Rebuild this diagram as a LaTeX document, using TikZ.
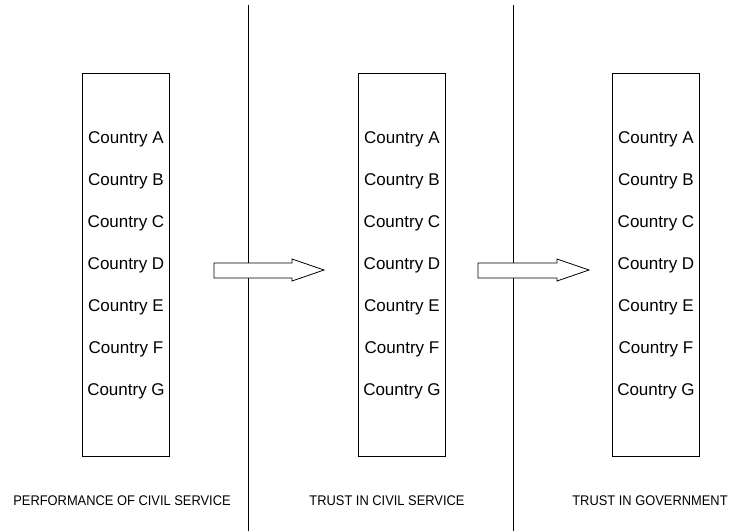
\documentclass[tikz,border=0pt]{standalone}
\usepackage{fontspec}
\setmainfont{Liberation Sans}
\tikzset{
  country/.style={font=\fontsize{17}{17}\selectfont, inner sep=0pt},
  stage/.style={font=\fontsize{14}{14}\selectfont, inner sep=0pt},
  column/.style={draw, line width=0.8pt, minimum width=87pt, minimum height=383pt, inner sep=0pt},
  divider/.style={line width=0.9pt},
  flow/.style={draw, fill=white, line width=0.8pt, line join=miter}
}
\newcommand{\stagetext}[1]{\scalebox{0.92}[1]{#1}}
\begin{document}
\begin{tikzpicture}[x=1pt, y=-1pt]
      \useasboundingbox (0,0) rectangle (729,531);
      \coordinate (top1) at (248,5); \coordinate (bot1) at (248,531);
      \coordinate (top2) at (513,5); \coordinate (bot2) at (513,531);
      \draw[divider] (top1) -- (bot1);
      \draw[divider] (top2) -- (bot2);
      \node[column] (perf) at (126,264.5) {};
      \node[column] (trustcs) at (402,264.5) {};
      \node[column] (trustgov) at (656,264.5) {};
      \node[country] (perfA) at (126,139) {Country A}; \node[country] (perfB) at (126,181) {Country B};
      \node[country] (perfC) at (126,223) {Country C}; \node[country] (perfD) at (126,265) {Country D};
      \node[country] (perfE) at (126,307) {Country E}; \node[country] (perfF) at (126,349) {Country F};
      \node[country] (perfG) at (126,391) {Country G};
      \node[country] (csA) at (402,139) {Country A}; \node[country] (csB) at (402,181) {Country B};
      \node[country] (csC) at (402,223) {Country C}; \node[country] (csD) at (402,265) {Country D};
      \node[country] (csE) at (402,307) {Country E}; \node[country] (csF) at (402,349) {Country F};
      \node[country] (csG) at (402,391) {Country G};
      \node[country] (govA) at (656,139) {Country A}; \node[country] (govB) at (656,181) {Country B};
      \node[country] (govC) at (656,223) {Country C}; \node[country] (govD) at (656,265) {Country D};
      \node[country] (govE) at (656,307) {Country E}; \node[country] (govF) at (656,349) {Country F};
      \node[country] (govG) at (656,391) {Country G};
      \draw[flow] (214,263) -- (292,263) -- (292,259) -- (324,270) -- (292,281) -- (292,278) -- (214,278) -- cycle;
      \draw[flow] (478,263) -- (557,263) -- (557,259) -- (589,270) -- (557,281) -- (557,278) -- (478,278) -- cycle;
      \node[stage] (perflabel) at (122,501) {\stagetext{PERFORMANCE OF CIVIL SERVICE}};
      \node[stage] (cslabel) at (387,501) {\stagetext{TRUST IN CIVIL SERVICE}};
      \node[stage] (govlabel) at (650,501) {\stagetext{TRUST IN GOVERNMENT}};
    \end{tikzpicture}
\end{document}
